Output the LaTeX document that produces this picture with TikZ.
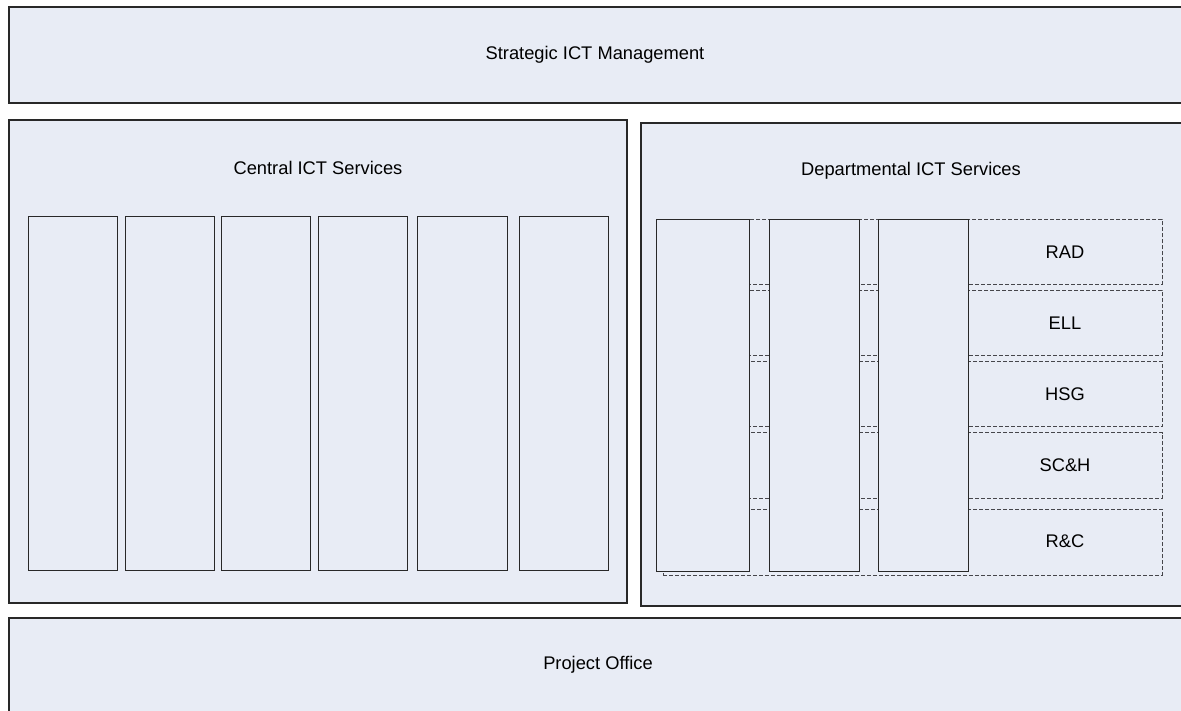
\documentclass[tikz,border=0pt]{standalone}
\usepackage{fontspec}
\setmainfont{Liberation Sans}
\definecolor{boxfill}{RGB}{232,236,245}
\definecolor{edge}{RGB}{40,40,40}
\definecolor{dashedge}{RGB}{70,70,75}
\begin{document}
\begin{tikzpicture}[x=1pt,y=-1pt,
  box/.style={draw=edge, fill=boxfill, line width=1.1pt, rectangle, inner sep=0pt, outer sep=0pt, anchor=north west},
  col/.style={draw=edge, fill=boxfill, line width=0.9pt, rectangle, inner sep=0pt, outer sep=0pt, anchor=north west},
  rowbox/.style={draw=dashedge, line width=0.8pt, dash pattern=on 4pt off 2pt, rectangle, inner sep=0pt, outer sep=0pt, anchor=north west},
  lbl/.style={font=\fontsize{18.3}{21}\selectfont, text=black, inner sep=0pt}]
\useasboundingbox (0,0) rectangle (1181,711);
\clip (0,0) rectangle (1181,711);
% outer boxes
\node[box, minimum width=1200pt, minimum height=96pt] (strategic) at (9,7) {};
\node[box, minimum width=618pt, minimum height=483pt] (central) at (9,120) {};
\node[box, minimum width=570pt, minimum height=483pt] (dept) at (641,123) {};
\node[box, minimum width=1200pt, minimum height=110pt] (project) at (9,618) {};
\node[lbl] (strategicL) at (595,55) {Strategic ICT Management};
\node[lbl] (centralL) at (318,168) {Central ICT Services};
\node[lbl] (deptL) at (911,171) {Departmental ICT Services};
\node[lbl] (projectL) at (598,665) {Project Office};
% central columns
\node[col, minimum width=88.6pt, minimum height=354pt] (c1) at (28.7,216) {};
\node[col, minimum width=89pt, minimum height=354pt] (c2) at (125,216) {};
\node[col, minimum width=89pt, minimum height=354pt] (c3) at (221.7,216) {};
\node[col, minimum width=89pt, minimum height=354pt] (c4) at (318,216) {};
\node[col, minimum width=89.3pt, minimum height=354pt] (c5) at (417.7,216) {};
\node[col, minimum width=89pt, minimum height=354pt] (c6) at (519,216) {};
% departmental rows (dashed)
\node[rowbox, minimum width=499pt, minimum height=65pt] (rad) at (663,219.3) {};
\node[rowbox, minimum width=499pt, minimum height=65pt] (ell) at (663,290) {};
\node[rowbox, minimum width=499pt, minimum height=65.5pt] (hsg) at (663,361) {};
\node[rowbox, minimum width=499pt, minimum height=65.5pt] (sch) at (663,432.5) {};
\node[rowbox, minimum width=499pt, minimum height=66pt] (rc) at (663,509) {};
\node[lbl] (radL) at (1065,252) {RAD};
\node[lbl] (ellL) at (1065,323) {ELL};
\node[lbl] (hsgL) at (1065,394) {HSG};
\node[lbl] (schL) at (1065,465) {SC\&H};
\node[lbl] (rcL) at (1065,541) {R\&C};
% departmental columns
\node[col, minimum width=93pt, minimum height=352pt] (d1) at (656.6,219.3) {};
\node[col, minimum width=90pt, minimum height=352pt] (d2) at (769.4,219.3) {};
\node[col, minimum width=90pt, minimum height=352pt] (d3) at (878.4,219.3) {};
\end{tikzpicture}
\end{document}
